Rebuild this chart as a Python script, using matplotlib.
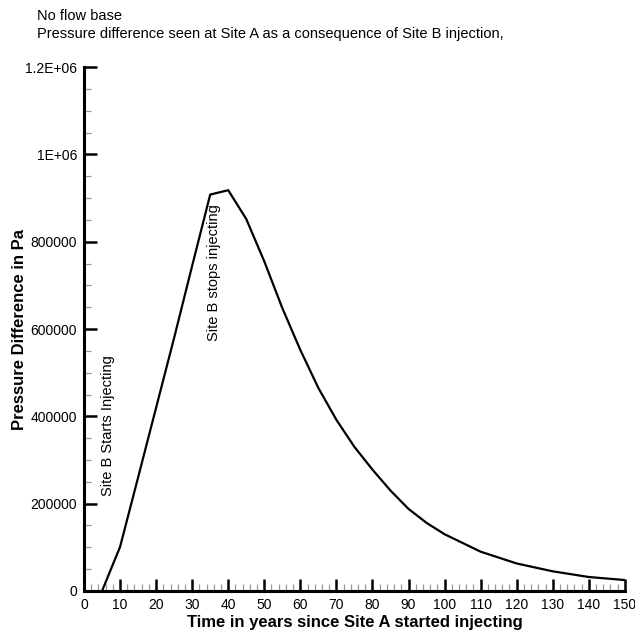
import matplotlib
matplotlib.use("Agg")
import matplotlib.pyplot as plt
from matplotlib.ticker import MultipleLocator, FixedLocator, FixedFormatter

plt.rcParams['font.family'] = ['Liberation Sans', 'DejaVu Sans']

# data
years = [5, 10, 15, 20, 25, 30, 35, 40, 45, 50, 55, 60, 65, 70, 75, 80, 85, 90,
         95, 100, 110, 120, 130, 140, 150]
dp = [0, 101000, 260000, 420000, 580000, 745000, 908000, 918000, 852000, 755000,
      648000, 552000, 465000, 392000, 330000, 278000, 230000, 188000, 156000,
      130000, 90000, 63000, 45000, 32000, 25000]

x_ticks = list(range(0, 151, 10))
y_ticks = [0, 200000, 400000, 600000, 800000, 1000000, 1200000]
y_tick_labels = ["0", "200000", "400000", "600000", "800000", "1E+06", "1.2E+06"]

fig = plt.figure(figsize=(6.35, 6.33), dpi=100)
ax = fig.add_axes([0.1323, 0.0664, 0.8517, 0.8276])

ax.plot(years, dp, color="black", lw=1.6)

ax.set_xlim(0, 150)
ax.set_ylim(0, 1200000)

ax.xaxis.set_major_locator(FixedLocator(x_ticks))
ax.xaxis.set_minor_locator(MultipleLocator(2))
ax.yaxis.set_major_locator(FixedLocator(y_ticks))
ax.yaxis.set_major_formatter(FixedFormatter(y_tick_labels))
ax.yaxis.set_minor_locator(MultipleLocator(50000))

for s in ["top", "right"]:
    ax.spines[s].set_visible(False)
for s in ["left", "bottom"]:
    ax.spines[s].set_linewidth(2.2)

ax.tick_params(which="major", direction="in", length=9, width=1.8, labelsize=10, pad=5)
ax.tick_params(which="minor", direction="in", length=5, width=0.9, color="#999999")
ax.tick_params(axis="y", which="major", pad=5)

ax.set_xlabel("Time in years since Site A started injecting", fontsize=12, fontweight="bold")
ax.set_ylabel("Pressure Difference in Pa", fontsize=12, fontweight="bold")
ax.xaxis.set_label_coords(0.5, -0.046)
ax.yaxis.set_label_coords(-0.105, 0.5)

ax.text(6.6, 380000, "Site B Starts Injecting", rotation=90, fontsize=10.5,
        ha="center", va="center")
ax.text(36.0, 730000, "Site B stops injecting", rotation=90, fontsize=10.5,
        ha="center", va="center")

fig.text(0.058, 0.985, "No flow base\nPressure difference seen at Site A as a consequence of Site B injection,",
         fontsize=10.5, ha="left", va="top", linespacing=1.3)

fig.savefig("out.png", dpi=100, facecolor="white")
